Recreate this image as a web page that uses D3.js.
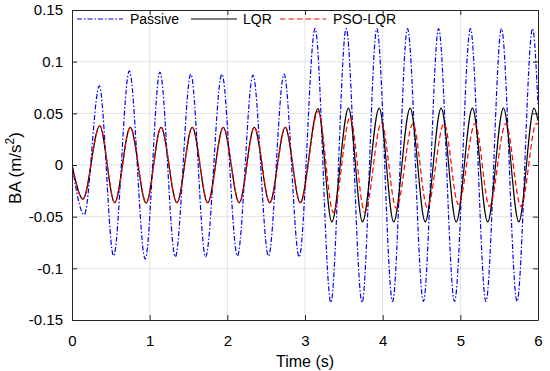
<!DOCTYPE html>
<html><head><meta charset="utf-8">
<script src="https://cdn.jsdelivr.net/npm/d3@7"></script>
<style>body{margin:0;background:#fff}svg{display:block;font-family:Arial,"Liberation Sans",Helvetica,sans-serif}</style>
</head><body><svg id="c" width="550" height="371"></svg>
<script>
// ---- data (extrema) ----
const xTicks = [0, 1, 2, 3, 4, 5, 6];
const yTicks = [-0.15, -0.1, -0.05, 0, 0.05, 0.1, 0.15];
const yTickLabels = ["-0.15", "-0.1", "-0.05", "0", "0.05", "0.1", "0.15"];
const seriesNames = ["Passive", "LQR", "PSO-LQR"];

const passiveT = [0, 0.158, 0.352, 0.535, 0.738, 0.943, 1.132, 1.33, 1.53, 1.72, 1.93, 2.13, 2.33, 2.53, 2.73, 2.925, 3.13, 3.333, 3.53, 3.735, 3.925, 4.128, 4.32, 4.525, 4.72, 4.925, 5.13, 5.33, 5.53, 5.73, 5.93, 6.0];
const passiveV = [0, -0.048, 0.0765, -0.088, 0.091, -0.091, 0.090, -0.089, 0.088, -0.089, 0.088, -0.088, 0.087, -0.088, 0.088, -0.089, 0.132, -0.133, 0.132, -0.133, 0.132, -0.132, 0.132, -0.132, 0.132, -0.132, 0.132, -0.132, 0.132, -0.132, 0.132, 0.058];

const lqrT = [0, 0.141, 0.356, 0.549, 0.75, 0.954, 1.146, 1.35, 1.548, 1.747, 1.947, 2.153, 2.346, 2.545, 2.745, 2.938, 3.168, 3.345, 3.56, 3.74, 3.955, 4.142, 4.354, 4.548, 4.753, 4.947, 5.156, 5.352, 5.555, 5.753, 5.95, 6.0];
const lqrV = [0, -0.033, 0.038, -0.0365, 0.0365, -0.037, 0.0365, -0.0365, 0.0365, -0.0365, 0.0365, -0.0365, 0.0365, -0.0365, 0.0365, -0.0365, 0.0545, -0.055, 0.055, -0.055, 0.055, -0.055, 0.055, -0.055, 0.055, -0.055, 0.055, -0.055, 0.055, -0.055, 0.055, 0.043];

const psoT = [0, 0.141, 0.358, 0.551, 0.752, 0.956, 1.148, 1.352, 1.55, 1.75, 1.95, 2.155, 2.35, 2.548, 2.748, 2.94, 3.17, 3.365, 3.58, 3.77, 3.985, 4.175, 4.39, 4.575, 4.79, 4.975, 5.19, 5.375, 5.585, 5.78, 5.98, 6.0];
const psoV = [0, -0.033, 0.038, -0.0365, 0.0365, -0.0365, 0.0365, -0.0365, 0.0365, -0.0365, 0.0365, -0.0365, 0.0365, -0.0365, 0.0365, -0.0365, 0.052, -0.046, 0.046, -0.046, 0.041, -0.042, 0.040, -0.041, 0.040, -0.038, 0.040, -0.040, 0.040, -0.040, 0.040, 0.0395];

// ---- layout ----
const L = 72, R = 538, T = 10, B = 320;
const svg = d3.select("#c");
const x = d3.scaleLinear().domain([0, 6]).range([L, R]);
const y = d3.scaleLinear().domain([-0.15, 0.15]).range([B, T]);

const styles = [
  {color: "#0000ff", dash: "5,2,1.5,2", width: 1.2},
  {color: "#000000", dash: null, width: 1.2},
  {color: "#ff0000", dash: "5.5,3", width: 1.2}
];
const series = [
  passiveT.map((t, i) => [t, passiveV[i]]),
  lqrT.map((t, i) => [t, lqrV[i]]),
  psoT.map((t, i) => [t, psoV[i]])
];

// grid
const grid = svg.append("g").attr("stroke", "#e3e3e3").attr("stroke-width", 1);
xTicks.slice(1, -1).forEach(v => grid.append("line").attr("x1", x(v)).attr("x2", x(v)).attr("y1", T).attr("y2", B));
yTicks.slice(1, -1).forEach(v => grid.append("line").attr("x1", L).attr("x2", R).attr("y1", y(v)).attr("y2", y(v)));

// clip
svg.append("clipPath").attr("id", "pc").append("rect").attr("x", L).attr("y", T).attr("width", R - L).attr("height", B - T);

const line = d3.line().x(d => x(d[0])).y(d => y(d[1])).curve(d3.curveMonotoneX);
const plot = svg.append("g").attr("clip-path", "url(#pc)");
series.forEach((s, i) => {
  plot.append("path").attr("d", line(s)).attr("fill", "none")
    .attr("stroke", styles[i].color).attr("stroke-width", styles[i].width)
    .attr("stroke-dasharray", styles[i].dash);
});

// axes (ticks inward, MATLAB style)
const axCol = "#262626";
const xAxisB = d3.axisBottom(x).tickValues(xTicks).tickSizeInner(-5).tickSizeOuter(0).tickPadding(15).tickFormat(d3.format("d"));
const xAxisT = d3.axisTop(x).tickValues(xTicks).tickSizeInner(-5).tickSizeOuter(0).tickFormat("");
const yAxisL = d3.axisLeft(y).tickValues(yTicks).tickSizeInner(-5).tickSizeOuter(0).tickPadding(9).tickFormat((d, i) => yTickLabels[i]);
const yAxisR = d3.axisRight(y).tickValues(yTicks).tickSizeInner(-5).tickSizeOuter(0).tickFormat("");
function styleAxis(g) {
  g.select(".domain").attr("stroke", axCol);
  g.selectAll(".tick line").attr("stroke", axCol);
  g.selectAll(".tick text").attr("fill", "#000").attr("font-size", 15).attr("font-family", "Arial, 'Liberation Sans', sans-serif");
}
svg.append("g").attr("transform", `translate(0,${B})`).call(xAxisB).call(styleAxis);
svg.append("g").attr("transform", `translate(0,${T})`).call(xAxisT).call(styleAxis);
svg.append("g").attr("transform", `translate(${L},0)`).call(yAxisL).call(styleAxis);
svg.append("g").attr("transform", `translate(${R},0)`).call(yAxisR).call(styleAxis);

// axis labels
svg.append("text").attr("x", (L + R) / 2).attr("y", 367).attr("text-anchor", "middle")
  .attr("font-size", 16).text("Time (s)");
const yl = svg.append("text").attr("transform", `translate(21,168) rotate(-90)`).attr("text-anchor", "middle").attr("font-size", 17);
yl.append("tspan").text("BA (m/s");
yl.append("tspan").attr("font-size", 12).attr("dy", -7).text("2");
yl.append("tspan").attr("dy", 7).text(")");

// legend (no box)
const legItems = [
  {x1: 77, x2: 123, tx: 130},
  {x1: 191, x2: 237, tx: 243},
  {x1: 280, x2: 326, tx: 333}
];
const ly = 19;
legItems.forEach((it, i) => {
  svg.append("line").attr("x1", it.x1).attr("x2", it.x2).attr("y1", ly).attr("y2", ly)
    .attr("stroke", styles[i].color).attr("stroke-width", styles[i].width).attr("stroke-dasharray", styles[i].dash);
  svg.append("text").attr("x", it.tx).attr("y", ly + 5).attr("font-size", 14).text(seriesNames[i]);
});
</script></body></html>
